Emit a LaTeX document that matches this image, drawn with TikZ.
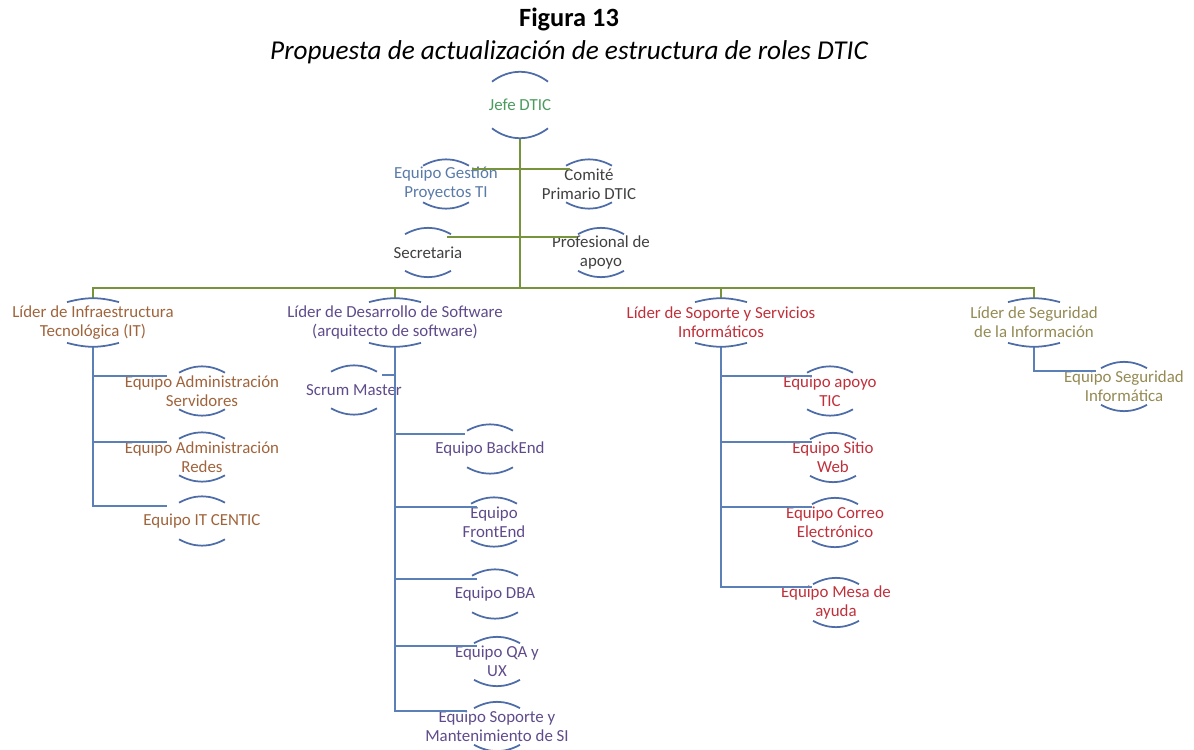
\documentclass[tikz,border=0pt]{standalone}
\usepackage{fontspec}
\setmainfont{Carlito}
\usepackage{tikz}
\usetikzlibrary{positioning, calc}
\definecolor{VerdeJefe}{HTML}{4B9A5E}
\definecolor{VerdeLinea}{HTML}{77933C}
\definecolor{AzulLinea}{HTML}{5B80B8}
\definecolor{AzulArco}{HTML}{4E6DA8}
\definecolor{AzulGestion}{HTML}{5A7AA8}
\definecolor{GrisRol}{HTML}{404040}
\definecolor{CafeInfra}{HTML}{A0643C}
\definecolor{MoradoSoft}{HTML}{5F4B8B}
\definecolor{RojoSoporte}{HTML}{C0303A}
\definecolor{OlivaSeg}{HTML}{948A54}

\begin{document}
\begin{tikzpicture}[
      x=0.02cm, y=0.02cm,
      rol/.style={align=center, inner sep=0pt, minimum height=0.96cm, font=\fontsize{9.6}{10.8}\selectfont},
      verde/.style={VerdeLinea, line width=1.1pt},
      azul/.style={AzulLinea, line width=1.1pt},
      arco/.style={AzulArco, line width=1pt}
  ]
    \useasboundingbox (0,0) rectangle (1194,-750);
    \node[font=\fontsize{15}{18}\selectfont\bfseries](fig) at (569,-19){Figura 13};
    \node[font=\fontsize{15.5}{18}\selectfont\itshape](titulo) at (569,-52){Propuesta de actualización de estructura de roles DTIC};

    \node[rol, text=VerdeJefe, minimum height=1.32cm](jefe) at (520,-105){Jefe DTIC};
    \node[rol, text=AzulGestion](gestion) at (446,-184){Equipo Gestión\\Proyectos TI};
    \node[rol, text=GrisRol](comite) at (589,-184){Comité\\Primario DTIC};
    \node[rol, text=GrisRol](secretaria) at (428,-252.5){Secretaria};
    \node[rol, text=GrisRol](profesional) at (601,-252.5){Profesional de\\apoyo};

    \node[rol, text=CafeInfra](infra) at (93,-322.5){Líder de Infraestructura\\Tecnológica (IT)};
    \node[rol, text=MoradoSoft](desarrollo) at (395,-322.5){Líder de Desarrollo de Software\\(arquitecto de software)};
    \node[rol, text=RojoSoporte](soporte) at (721,-322.5){Líder de Soporte y Servicios\\Informáticos};
    \node[rol, text=OlivaSeg](seguridad) at (1034,-322.5){Líder de Seguridad\\de la Información};

    \node[rol, text=CafeInfra](servidores) at (202,-391){Equipo Administración\\Servidores};
    \node[rol, text=CafeInfra](redes) at (202,-457){Equipo Administración\\Redes};
    \node[rol, text=CafeInfra](centic) at (202,-521){Equipo IT CENTIC};

    \node[rol, text=MoradoSoft](scrum) at (354,-390){Scrum Master};
    \node[rol, text=MoradoSoft](backend) at (490,-449){Equipo BackEnd};
    \node[rol, text=MoradoSoft](frontend) at (494,-522){Equipo\\FrontEnd};
    \node[rol, text=MoradoSoft](dba) at (495,-594){Equipo DBA};
    \node[rol, text=MoradoSoft](qaux) at (497,-661.5){Equipo QA y\\UX};
    \node[rol, text=MoradoSoft](mant) at (497,-726.5){Equipo Soporte y\\Mantenimiento de SI};

    \node[rol, text=RojoSoporte](apoyo) at (830,-391){Equipo apoyo\\TIC};
    \node[rol, text=RojoSoporte](sitio) at (833,-457.5){Equipo Sitio\\Web};
    \node[rol, text=RojoSoporte](correo) at (835,-522.5){Equipo Correo\\Electrónico};
    \node[rol, text=RojoSoporte](mesa) at (836,-602.5){Equipo Mesa de\\ayuda};

    \node[rol, text=OlivaSeg](seginf) at (1124,-386.5){Equipo Seguridad\\Informática};

    \coordinate(bus) at (520,-288);
    \draw[verde](jefe.south)--(bus);
    \draw[verde](infra.north)|-(bus)-|(seguridad.north);
    \draw[verde](desarrollo.north)--(desarrollo |- bus);
    \draw[verde](soporte.north)--(soporte |- bus);
    \draw[verde]([shift={(26,-9)}]gestion.north)--([shift={(-19,-9)}]comite.north);
    \draw[verde]([shift={(19,-9)}]secretaria.north)--([shift={(-24,-9)}]profesional.north);

    \draw[azul](infra.south)|-([shift={(-35,-9)}]servidores.north);
    \draw[azul](infra.south)|-([shift={(-35,-9)}]redes.north);
    \draw[azul](infra.south)|-([shift={(-35,-9)}]centic.north);
    \draw[azul](desarrollo.south)|-([shift={(28,-9)}]scrum.north);
    \draw[azul](desarrollo.south)|-([shift={(-25,-9)}]backend.north);
    \draw[azul](desarrollo.south)|-([shift={(-17,-9)}]frontend.north);
    \draw[azul](desarrollo.south)|-([shift={(-18,-9)}]dba.north);
    \draw[azul](desarrollo.south)|-([shift={(-20,-9)}]qaux.north);
    \draw[azul](desarrollo.south)|-([shift={(-30,-9)}]mant.north);
    \draw[azul](soporte.south)|-([shift={(-18,-9)}]apoyo.north);
    \draw[azul](soporte.south)|-([shift={(-21,-9)}]sitio.north);
    \draw[azul](soporte.south)|-([shift={(-23,-9)}]correo.north);
    \draw[azul](soporte.south)|-([shift={(-24,-9)}]mesa.north);
    \draw[azul](seguridad.south)|-([shift={(-28,-9)}]seginf.north);

    \draw[arco]([shift={(-28,-10)}]jefe.north) to[bend left=37] ([shift={(28,-10)}]jefe.north);
    \draw[arco]([shift={(-28,10)}]jefe.south) to[bend right=37] ([shift={(28,10)}]jefe.south);
    \foreach \n in {infra, desarrollo, soporte, seguridad}{
      \draw[arco]([shift={(-26,-4)}]\n.north) to[bend left=15] ([shift={(26,-4)}]\n.north);
      \draw[arco]([shift={(-26,4)}]\n.south) to[bend right=15] ([shift={(26,4)}]\n.south);
    }
    \foreach \n in {gestion, comite, secretaria, profesional, servidores, redes, centic, scrum, backend, frontend, dba, qaux, mant, apoyo, sitio, correo, mesa, seginf}{
      \draw[arco]([shift={(-23,-6)}]\n.north) to[bend left=28] ([shift={(23,-6)}]\n.north);
      \draw[arco]([shift={(-23,6)}]\n.south) to[bend right=28] ([shift={(23,6)}]\n.south);
    }
  \end{tikzpicture}
\end{document}
